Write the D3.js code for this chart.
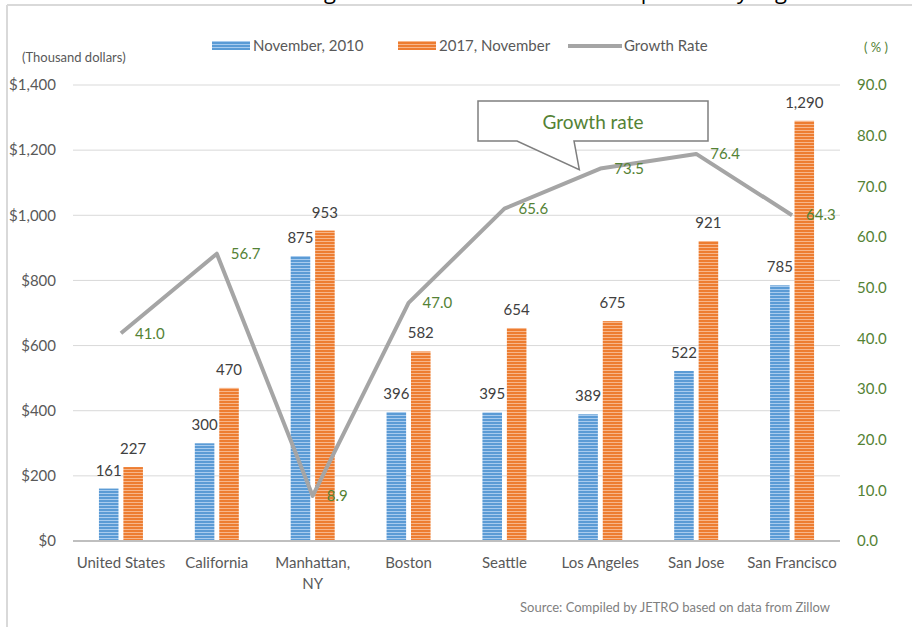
<!DOCTYPE html>
<html>
<head>
<meta charset="utf-8">
<script src="https://cdn.jsdelivr.net/npm/d3@7"></script>
<style>
	body { margin: 0; background: #fff; }
	svg { display: block; font-family: Lato, "Open Sans", sans-serif; }
</style>
</head>
<body>
<div id="chart"></div>
<script>
	// values
	var categories = ["United States", "California", "Manhattan, NY", "Boston", "Seattle", "Los Angeles", "San Jose", "San Francisco"];
	var nov2010 = [161, 300, 875, 396, 395, 389, 522, 785];
	var nov2017 = [227, 470, 953, 582, 654, 675, 921, 1290];
	var growth = [41.0, 56.7, 8.9, 47.0, 65.6, 73.5, 76.4, 64.3];
	var leftTicks = [0, 200, 400, 600, 800, 1000, 1200, 1400];
	var rightTicks = [0, 10, 20, 30, 40, 50, 60, 70, 80, 90];
	var seriesNames = ["November, 2010", "2017, November", "Growth Rate"];
	var titleParts = ["Median Home Value Change and Growth Rate:", "comparison by region"];

	var W = 912, H = 627;
	var plotL = 73, plotR = 840, plotT = 85, plotB = 541;

	var svg = d3.select('#chart').append('svg').attr('width', W).attr('height', H);

	// stripe patterns for the bars
	var defs = svg.append('defs');
	function stripes(id, base, light)
	{
		var p = defs.append('pattern').attr('id', id).attr('patternUnits', 'userSpaceOnUse')
			.attr('width', 6).attr('height', 3);
		p.append('rect').attr('width', 6).attr('height', 3).attr('fill', base);
		p.append('rect').attr('y', 1).attr('width', 6).attr('height', 1).attr('fill', light);
	}
	stripes('blueStripe', '#5b9bd5', '#a8cbee');
	stripes('orangeStripe', '#ed7d31', '#f7b68a');

	// title, cropped at the top edge: only its descenders show
	function titleText(s, size)
	{
		return svg.append('text').attr('x', 0).attr('y', -1)
			.attr('font-family', '"Open Sans", sans-serif').attr('font-size', size).attr('fill', '#000').text(s);
	}
	function charAt(t, i, f)
	{
		var n = t.node();
		return n.getStartPositionOfChar(i).x + n.getExtentOfChar(i).width * f;
	}
	var tB = titleText(titleParts[1], 20);
	var ip = titleParts[1].indexOf('p'), ig = titleParts[1].lastIndexOf('g');
	var fs = 20 * 137 / (charAt(tB, ig, 0.5) - charAt(tB, ip, 0.25));
	tB.attr('font-size', fs);
	tB.attr('x', 644 - charAt(tB, ip, 0.25));
	var tA = titleText(titleParts[0], fs);
	tA.attr('x', 330 - charAt(tA, titleParts[0].indexOf('g'), 0.5));

	// frame
	svg.append('line').attr('x1', 7).attr('x2', W).attr('y1', 5).attr('y2', 5)
		.attr('stroke', '#d9d9d9').attr('stroke-width', 2);
	svg.append('line').attr('x1', 7).attr('x2', 7).attr('y1', 5).attr('y2', H)
		.attr('stroke', '#d9d9d9').attr('stroke-width', 2);

	var x0 = d3.scaleBand().domain(categories).range([plotL, plotR]);
	var x1 = d3.scaleBand().domain([0, 1]).range([x0.bandwidth() / 2 - 22, x0.bandwidth() / 2 + 22]).paddingInner(0.2);
	var yL = d3.scaleLinear().domain([0, 1400]).range([plotB, plotT]);
	var yR = d3.scaleLinear().domain([0, 90]).range([plotB, plotT]);

	// gridlines
	svg.append('g').selectAll('line').data(leftTicks.slice(1)).enter().append('line')
		.attr('x1', plotL).attr('x2', plotR)
		.attr('y1', function(d) { return yL(d); }).attr('y2', function(d) { return yL(d); })
		.attr('stroke', '#d9d9d9').attr('stroke-width', 1);

	// left axis
	var axL = svg.append('g').attr('transform', 'translate(' + (plotL - 14) + ',0)')
		.call(d3.axisLeft(yL).tickValues(leftTicks).tickSize(0).tickFormat(function(d) { return '$' + d3.format(',')(d); }));
	axL.select('.domain').remove();
	axL.selectAll('text').attr('font-size', 15).attr('fill', '#595959').attr('font-family', 'Lato, sans-serif');

	// right axis
	var axR = svg.append('g').attr('transform', 'translate(' + (plotR + 14) + ',0)')
		.call(d3.axisRight(yR).tickValues(rightTicks).tickSize(0).tickFormat(d3.format('.1f')));
	axR.select('.domain').remove();
	axR.selectAll('text').attr('font-size', 15).attr('fill', '#548235').attr('font-family', 'Lato, sans-serif');

	// bars
	var groups = svg.append('g').selectAll('g').data(categories).enter().append('g')
		.attr('transform', function(d) { return 'translate(' + x0(d) + ',0)'; });
	var barData = function(d, i) { return [{s: 0, v: nov2010[i]}, {s: 1, v: nov2017[i]}]; };
	groups.selectAll('rect').data(barData).enter().append('rect')
		.attr('x', function(d) { return x1(d.s); })
		.attr('width', x1.bandwidth())
		.attr('y', function(d) { return yL(d.v); })
		.attr('height', function(d) { return plotB - yL(d.v); })
		.attr('fill', function(d) { return d.s == 0 ? 'url(#blueStripe)' : 'url(#orangeStripe)'; });
	groups.selectAll('text').data(barData).enter().append('text')
		.attr('x', function(d) { return x1(d.s) + x1.bandwidth() / 2; })
		.attr('y', function(d) { return yL(d.v) - 13; })
		.attr('text-anchor', 'middle').attr('font-size', 15).attr('fill', '#404040')
		.text(function(d) { return d3.format(',')(d.v); });

	// x axis line
	svg.append('line').attr('x1', plotL).attr('x2', plotR).attr('y1', plotB).attr('y2', plotB)
		.attr('stroke', '#bfbfbf').attr('stroke-width', 2);

	// category labels
	var cat = svg.append('g').selectAll('text').data(categories).enter().append('text')
		.attr('x', function(d) { return x0(d) + x0.bandwidth() / 2; })
		.attr('y', 568).attr('text-anchor', 'middle').attr('font-size', 15).attr('fill', '#595959');
	cat.each(function(d) {
		var parts = d.indexOf(', ') > 0 ? [d.split(', ')[0] + ',', d.split(', ')[1]] : [d];
		var t = d3.select(this);
		parts.forEach(function(p, k) {
			t.append('tspan').attr('x', t.attr('x')).attr('dy', k == 0 ? 0 : 21).text(p);
		});
	});

	// growth line
	var pts = categories.map(function(c, i) { return [x0(c) + x0.bandwidth() / 2, yR(growth[i])]; });
	svg.append('path').datum(pts).attr('d', d3.line())
		.attr('fill', 'none').attr('stroke', '#a5a5a5').attr('stroke-width', 4).attr('stroke-linejoin', 'round');
	svg.append('g').selectAll('text').data(growth).enter().append('text')
		.attr('x', function(d, i) { return pts[i][0] + 14; })
		.attr('y', function(d, i) { return pts[i][1]; })
		.attr('dy', '0.35em').attr('font-size', 15).attr('fill', '#548235')
		.text(function(d) { return d3.format('.1f')(d); });

	// callout
	var tip = [pts[5][0] - 21, pts[5][1] + 1];
	svg.append('path')
		.attr('d', 'M478,101 H708 V141 H574 L' + tip[0] + ',' + tip[1] + ' L517,141 H478 Z')
		.attr('fill', '#fff').attr('stroke', '#7f7f7f').attr('stroke-width', 1.5);
	svg.append('text').attr('x', 593).attr('y', 122).attr('dy', '0.35em').attr('text-anchor', 'middle')
		.attr('font-size', 19).attr('fill', '#548235').text('Growth rate');

	// axis titles
	svg.append('text').attr('x', 22).attr('y', 62).attr('font-size', 13).attr('fill', '#595959').text('(Thousand dollars)');
	svg.append('text').attr('x', 864).attr('y', 52).attr('font-size', 13).attr('fill', '#548235').text('( % )');

	// legend
	var legend = svg.append('g');
	var lx = [212, 398, 568];
	seriesNames.forEach(function(n, i) {
		var g = legend.append('g').attr('transform', 'translate(' + lx[i] + ',46)');
		if (i < 2)
			g.append('rect').attr('y', -5).attr('width', 38).attr('height', 9)
				.attr('fill', i == 0 ? 'url(#blueStripe)' : 'url(#orangeStripe)');
		else
			g.append('line').attr('x1', 0).attr('x2', 54).attr('stroke', '#a5a5a5').attr('stroke-width', 4);
		g.append('text').attr('x', i < 2 ? 41 : 56).attr('dy', '0.35em').attr('font-size', 15).attr('fill', '#595959').text(n);
	});

	// source
	svg.append('text').attr('x', 830).attr('y', 612).attr('text-anchor', 'end')
		.attr('font-size', 13).attr('fill', '#7f7f7f').text('Source: Compiled by JETRO based on data from Zillow');
</script>
</body>
</html>
